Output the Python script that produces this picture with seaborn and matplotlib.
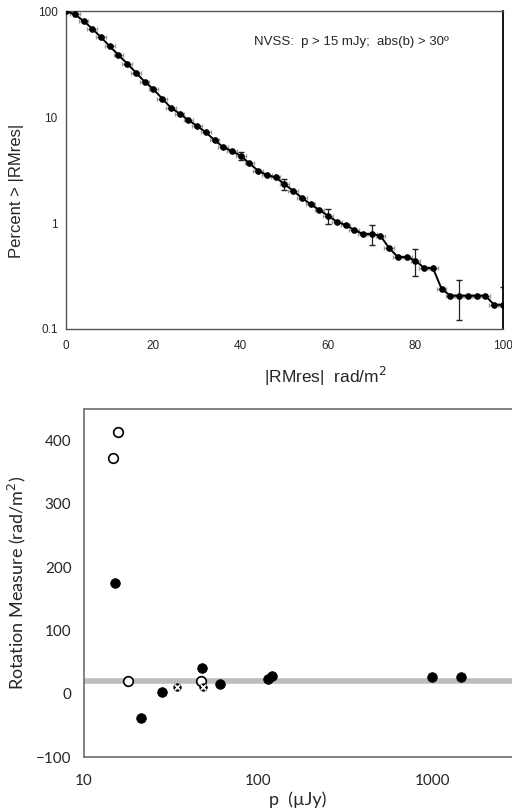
"""Two-panel figure: cumulative |RMres| distribution (NVSS) and RM vs polarized flux."""
import matplotlib
matplotlib.use("Agg")
import matplotlib.pyplot as plt
import numpy as np
import pandas as pd
import seaborn as sns

# --- top panel: percent of sources with |RMres| above threshold ---
rm_abs = list(range(0, 101, 2))
percent = [
    100, 93.7, 81, 68.6, 56.9, 46.8, 38.7, 32.1, 26.4, 21.6,
    18.4, 15.0, 12.3, 10.8, 9.4, 8.25, 7.2, 6.07, 5.2, 4.78,
    4.31, 3.66, 3.11, 2.84, 2.70, 2.33, 2.02, 1.73, 1.50, 1.33,
    1.17, 1.03, 0.957, 0.859, 0.787, 0.787, 0.758, 0.577, 0.477, 0.477,
    0.441, 0.376, 0.376, 0.238, 0.206, 0.206, 0.206, 0.206, 0.206, 0.169,
    0.169,
]
# vertical error bars only visible every 10 rad/m^2 beyond 40
percent_err = {40: 0.38, 50: 0.26, 60: 0.2, 70: 0.168, 80: 0.125, 90: 0.085, 100: 0.08}
rm_xerr = 1.1

# --- bottom panel: rotation measure vs polarized flux ---
filled_p = [15.1, 21.3, 28, 47.5, 60.5, 114, 120, 1000, 1470]
filled_rm = [175, -38, 2, 40, 15, 23, 28, 27, 26]
open_p = [14.7, 15.7, 17.9, 47]
open_rm = [372, 414, 20, 20]
crossed_p = [34.2, 48.3]
crossed_rm = [11, 10]
rm_mean = 20

top = pd.DataFrame({"rm": rm_abs, "pct": percent})
top["yerr"] = top["rm"].map(percent_err).fillna(0.0)

sns.set_style("white")
plt.rcParams["font.family"] = ["Liberation Sans", "DejaVu Sans"]
calibri_like = ["Lato", "DejaVu Sans"]

fig = plt.figure(figsize=(5.12, 8.1), dpi=100)

# ---------------- top panel ----------------
ax1 = fig.add_axes([0.129, 0.594, 0.853, 0.392])
ax1.errorbar(top["rm"], top["pct"], xerr=rm_xerr, fmt="none",
             ecolor="#9a9a9a", elinewidth=0.8, capsize=1.5, zorder=1)
ax1.errorbar(top["rm"], top["pct"], yerr=top["yerr"], fmt="none",
             ecolor="#222222", elinewidth=0.9, capsize=2, zorder=2)
sns.lineplot(data=top, x="rm", y="pct", ax=ax1, color="black", lw=1.4,
             marker="o", markersize=4, markeredgecolor="black", zorder=3)
ax1.set_yscale("log")
ax1.set_xlim(0, 100)
ax1.set_ylim(0.1, 100)
ax1.set_xticks(range(0, 101, 20))
ax1.set_yticks([0.1, 1, 10, 100])
ax1.set_yticklabels(["0.1", "1", "10", "100"])
ax1.minorticks_off()
ax1.tick_params(axis="both", direction="in", length=3, color="#bbbbbb",
                labelsize=8.5, pad=6)
ax1.tick_params(axis="x", pad=8)
for side in ["left", "bottom", "top"]:
    ax1.spines[side].set_color("#555555")
    ax1.spines[side].set_linewidth(1.0)
ax1.spines["right"].set_color("black")
ax1.spines["right"].set_linewidth(1.3)
ax1.set_xlabel("|RMres|  rad/m$^2$", fontsize=12.5)
ax1.xaxis.set_label_coords(0.595, -0.112)
ax1.set_ylabel("Percent > |RMres|", fontsize=12)
ax1.yaxis.set_label_coords(-0.097, 0.435)
ax1.text(0.43, 0.905, "NVSS:  p > 15 mJy;  abs(b) > 30º", transform=ax1.transAxes,
         fontsize=9.5, va="center", ha="left")

# ---------------- bottom panel ----------------
ax2 = fig.add_axes([0.164, 0.0654, 0.836, 0.4296])
ax2.axhline(rm_mean, color="#bdbdbd", lw=4, zorder=1)
sns.scatterplot(x=filled_p, y=filled_rm, ax=ax2, color="black", s=48,
                edgecolor="black", zorder=3)
sns.scatterplot(x=open_p, y=open_rm, ax=ax2, facecolor="white", s=48,
                edgecolor="black", linewidth=1.2, zorder=3)
sns.scatterplot(x=crossed_p, y=crossed_rm, ax=ax2, color="black", s=30,
                edgecolor="black", zorder=4)
ax2.scatter(crossed_p, crossed_rm, marker="x", color="white", s=14,
            linewidths=1.3, zorder=5)
ax2.set_xscale("log")
ax2.set_xlim(10, 2880)
ax2.set_ylim(-100, 450)
ax2.set_xticks([10, 100, 1000])
ax2.set_xticklabels(["10", "100", "1000"])
ax2.set_yticks([-100, 0, 100, 200, 300, 400])
ax2.minorticks_off()
ax2.tick_params(axis="y", direction="out", length=5, color="#999999",
                labelsize=11, pad=4)
ax2.tick_params(axis="x", direction="out", length=0, labelsize=11, pad=12)
for lbl in ax2.get_xticklabels() + ax2.get_yticklabels():
    lbl.set_family(calibri_like)
for side in ["left", "bottom", "top"]:
    ax2.spines[side].set_color("#777777")
    ax2.spines[side].set_linewidth(1.3)
ax2.spines["right"].set_visible(False)
ax2.set_xlabel("p  (µJy)", fontsize=13, family=calibri_like, labelpad=3)
ax2.set_ylabel("Rotation Measure (rad/m$^2$)", fontsize=13,
               family=calibri_like, labelpad=6)

fig.savefig("out.png", dpi=100)
